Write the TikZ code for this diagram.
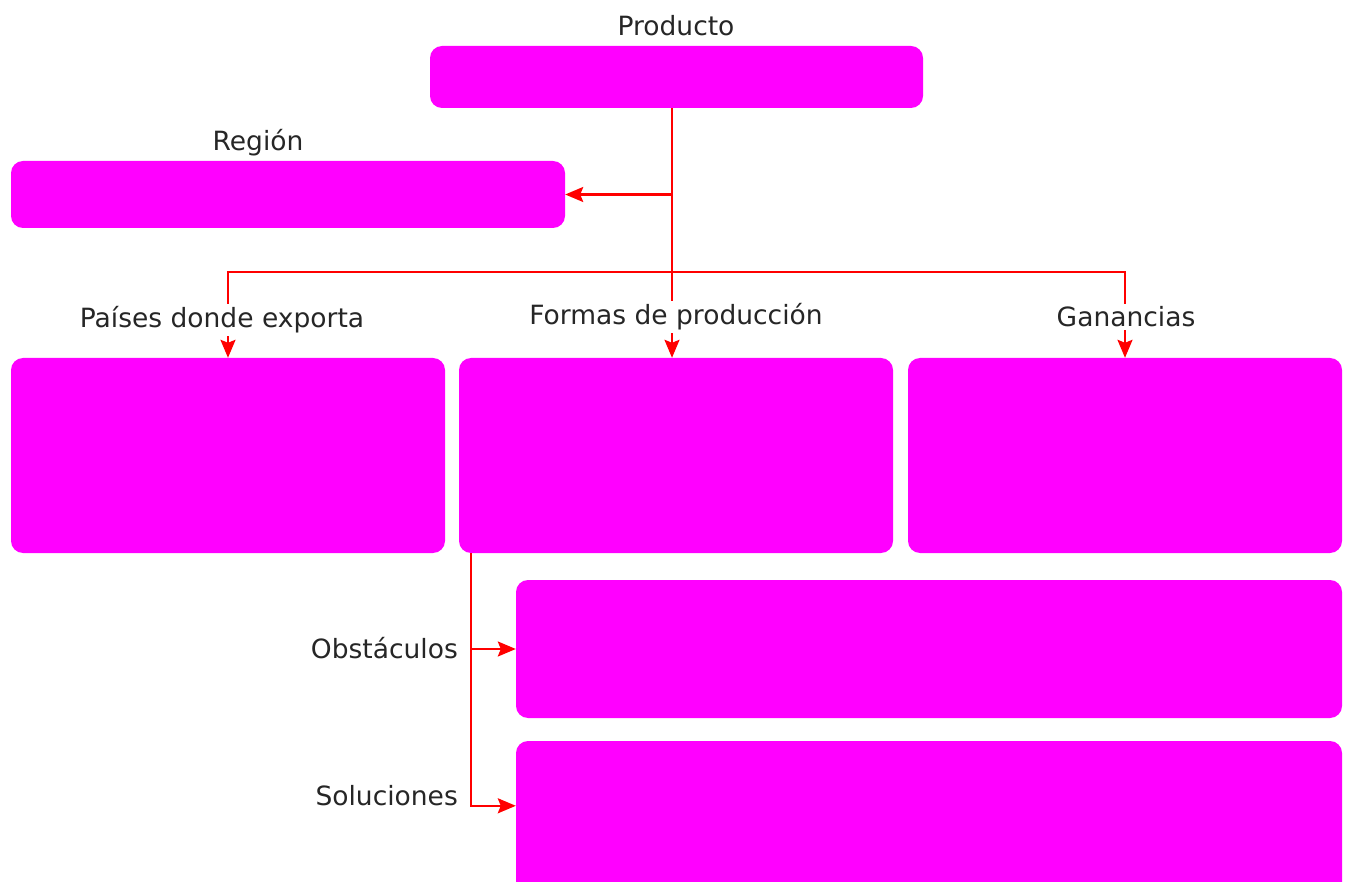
\documentclass[tikz,border=0pt]{standalone}
\usepackage{fontspec}
\setmainfont{DejaVu Sans}
\usetikzlibrary{arrows.meta,positioning}

\definecolor{boxfill}{HTML}{FF00FF}
\definecolor{linkred}{HTML}{FF0000}
\definecolor{textgray}{HTML}{262626}

\begin{document}
\begin{tikzpicture}[
    x=1pt, y=-1pt,
    box/.style={
        fill=boxfill,
        rounded corners=12pt,
        inner sep=0pt
    },
    relation/.style={-{Stealth[length=18pt, width=15pt, inset=3pt]}, linkred, line width=2.2pt},
    caption/.style={font=\fontsize{26.5}{31}\selectfont, text=textgray, inner sep=0pt},
    reltext/.style={caption, fill=white, inner sep=3pt}
]

\useasboundingbox (0,0) rectangle (1345,882);
\clip (0,0) rectangle (1345,882);

\node[box, minimum width=493pt, minimum height=62pt] (producto) at (676.5,77) {};
\node[box, minimum width=554pt, minimum height=67pt] (region) at (288,194.5) {};

\node[box, minimum width=434pt, minimum height=195pt] (paises) at (228,455.5) {};
\node[box, minimum width=434pt, minimum height=195pt] (formas) at (676,455.5) {};
\node[box, minimum width=434pt, minimum height=195pt] (ganancias) at (1125,455.5) {};

\node[box, minimum width=826pt, minimum height=138pt] (obstaculos) at (929,649) {};
\node[box, minimum width=826pt, minimum height=170pt] (soluciones) at (929,826) {};

\node[caption] (producto_lbl) at (676,26) {Producto};
\node[caption] (region_lbl) at (258,143) {Región};

\draw[relation] ([xshift=-4.5pt]producto.south) |- (region.east);
\draw[relation] ([xshift=-4.5pt]producto.south) -- ([xshift=-4pt]formas.north);
\draw[relation] ([xshift=-4.5pt]producto.south) -- ++(0,164) -| (paises.north);
\draw[relation] ([xshift=-4.5pt]producto.south) -- ++(0,164) -| (ganancias.north);

\node[reltext] (paises_lbl) at (222,320) {Países donde exporta};
\node[reltext] (formas_lbl) at (676,317) {Formas de producción};
\node[reltext] (ganancias_lbl) at (1126,317) {Ganancias};

\draw[relation] ([xshift=12pt]formas.south west) |- (obstaculos.west);
\draw[relation] ([xshift=12pt]formas.south west) |- ([yshift=-65pt]soluciones.north west);

\node[caption, anchor=east] (obstaculos_lbl) at (458,648) {Obstáculos};
\node[caption, anchor=east] (soluciones_lbl) at (458,796) {Soluciones};

\end{tikzpicture}
\end{document}
